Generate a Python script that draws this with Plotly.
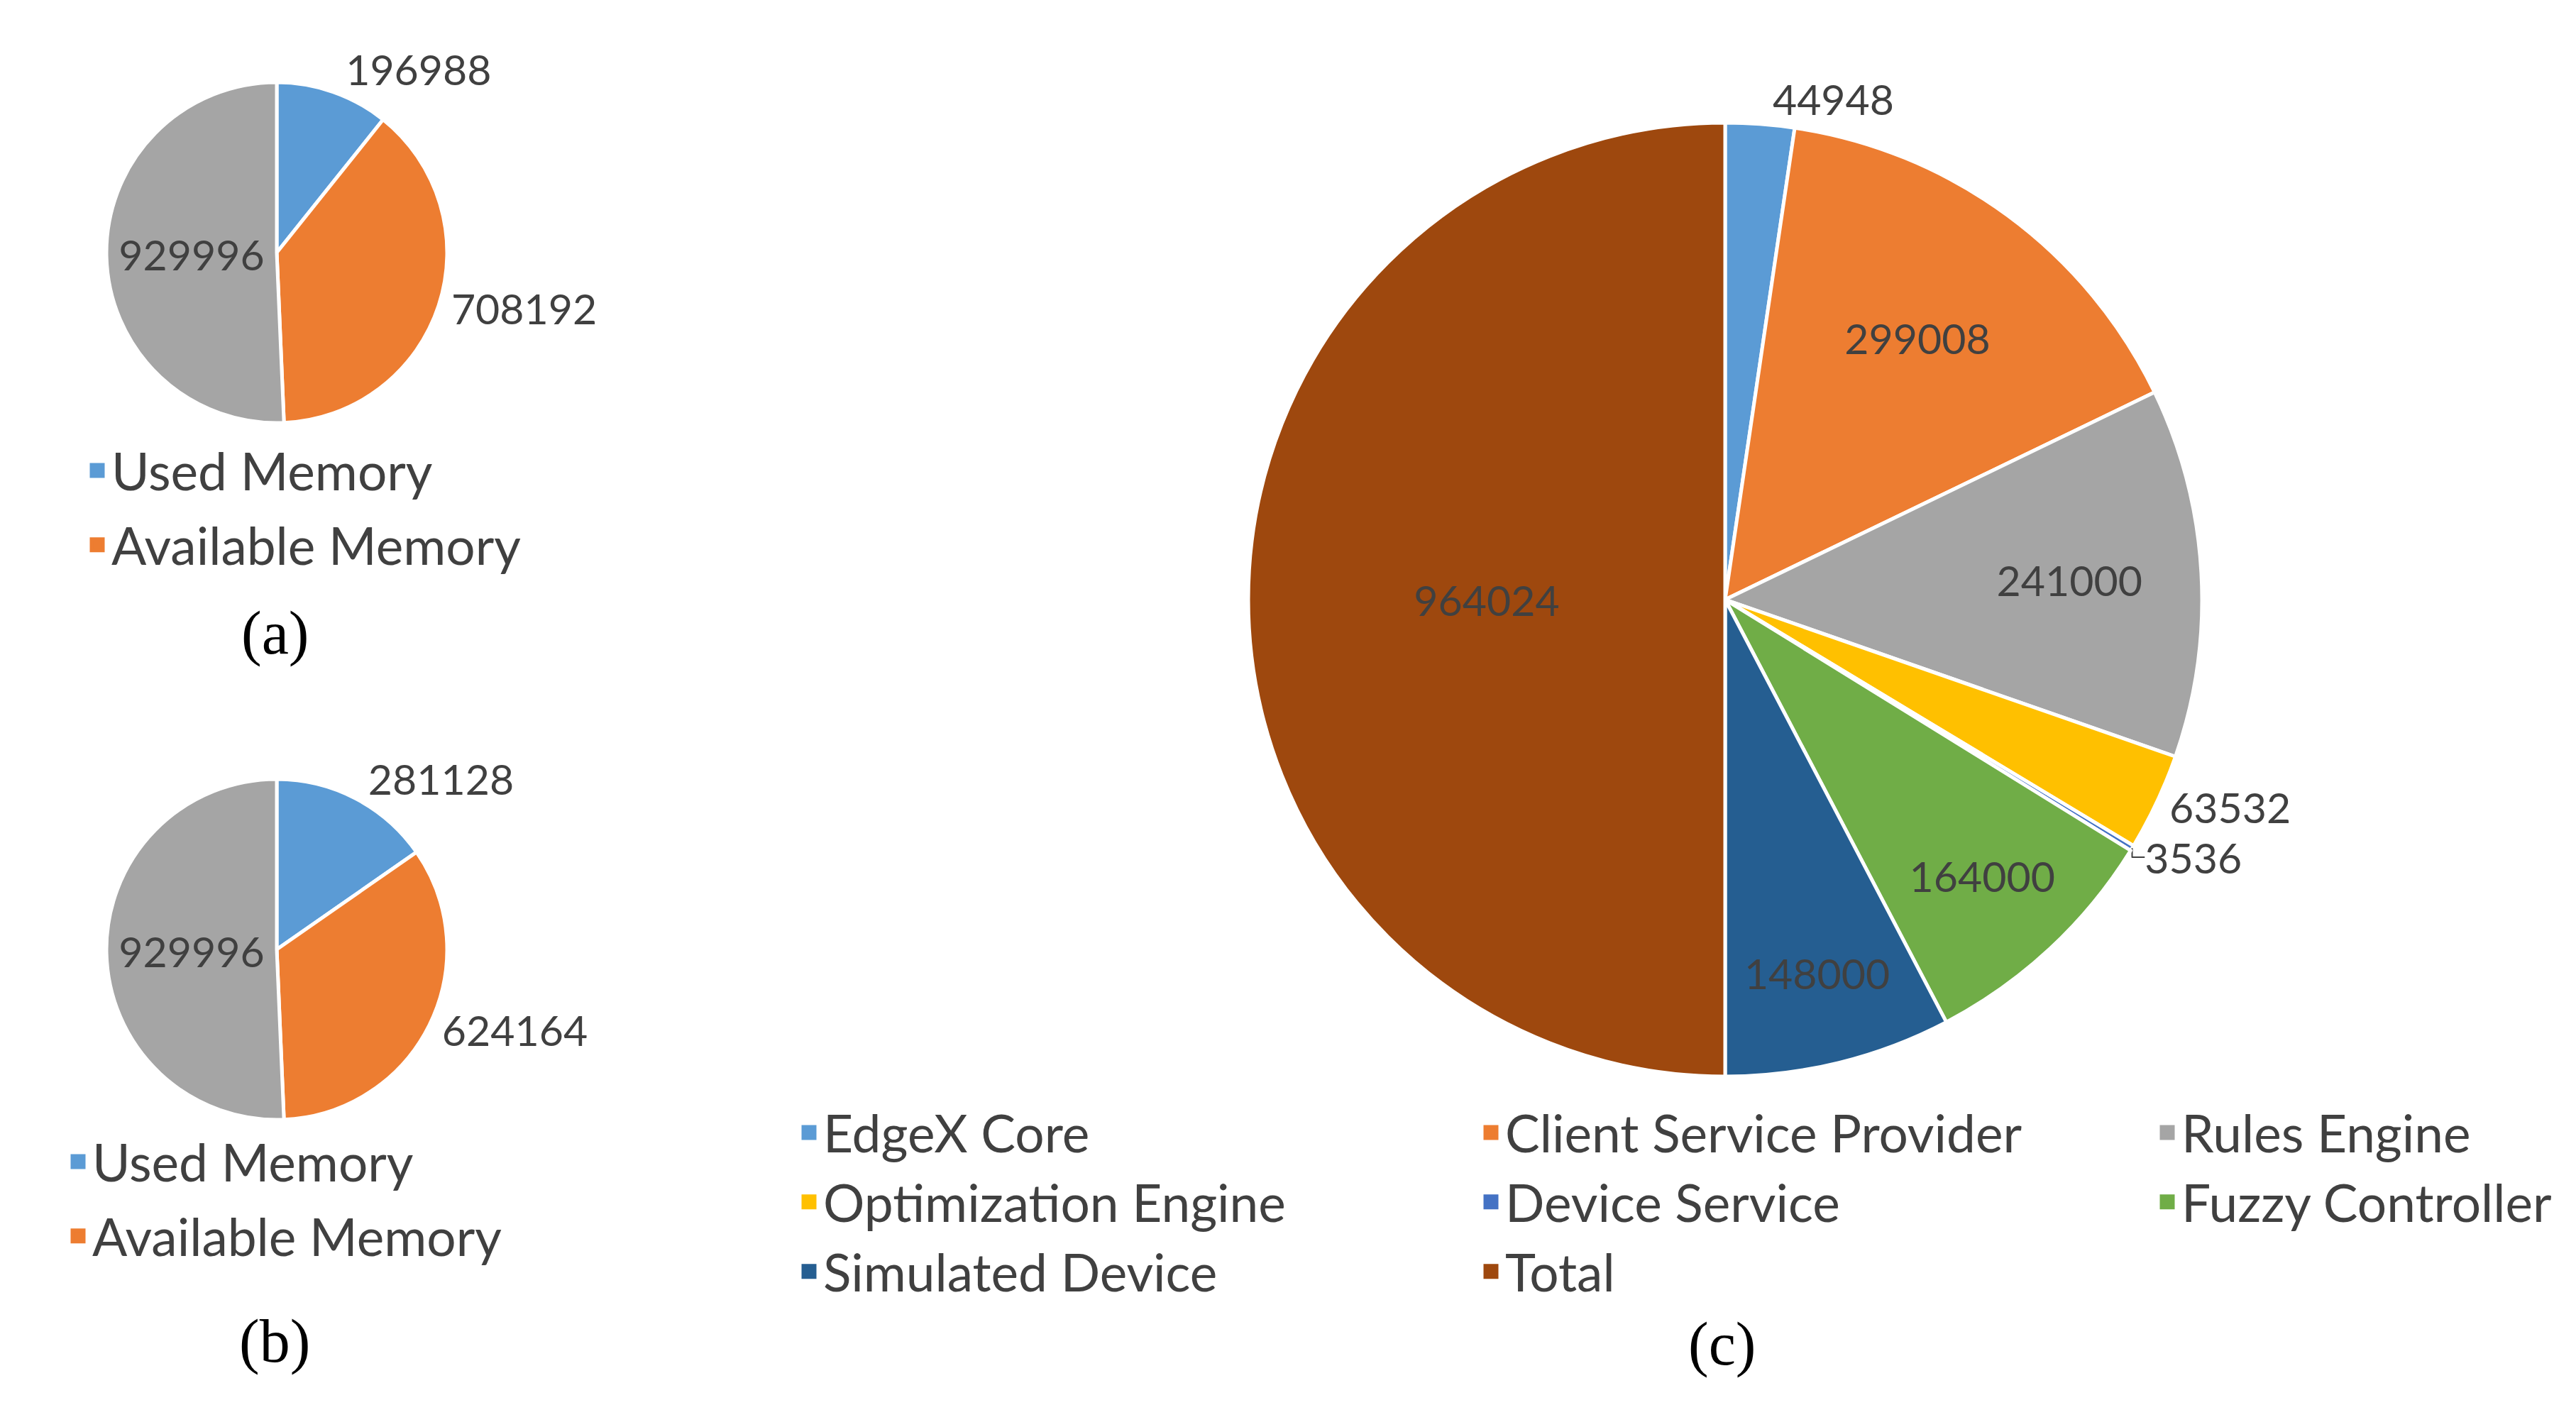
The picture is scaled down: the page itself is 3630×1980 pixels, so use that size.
import plotly.graph_objects as go

W, H = 3630, 1980
OFF = 8  # browser body margin

# ---------------- data ----------------
mem_labels = ["Used Memory", "Available Memory", "Total Memory"]
mem_a_values = [196988, 708192, 929996]
mem_b_values = [281128, 624164, 929996]
mem_colors = ["#5B9BD5", "#ED7D31", "#A5A5A5"]
mem_legend_labels = ["Used Memory", "Available Memory"]

svc_labels = ["EdgeX Core", "Client Service Provider", "Rules Engine",
              "Optimization Engine", "Device Service", "Fuzzy Controller",
              "Simulated Device", "Total"]
svc_values = [44948, 299008, 241000, 63532, 3536, 164000, 148000, 964024]
svc_colors = ["#5B9BD5", "#ED7D31", "#A5A5A5", "#FFC000", "#4472C4",
              "#70AD47", "#255E91", "#9E480E"]
svc_columns = [["EdgeX Core", "Optimization Engine", "Simulated Device"],
               ["Client Service Provider", "Device Service", "Total"],
               ["Rules Engine", "Fuzzy Controller"]]

captions = ["(a)", "(b)", "(c)"]

TEXT_COLOR = "#404040"
FONT = "Lato"


def px_x(x):
    return (x - OFF) / W


def px_y(y):
    return 1 - (y - OFF) / H


def pie_domain(cx, cy, r):
    return dict(x=[px_x(cx - r), px_x(cx + r)], y=[px_y(cy + r), px_y(cy - r)])


fig = go.Figure()

label_font = dict(family=FONT, size=59, color=TEXT_COLOR)

# pie (a)
fig.add_trace(go.Pie(
    labels=mem_labels, values=mem_a_values, sort=False, direction="clockwise",
    rotation=0, marker=dict(colors=mem_colors, line=dict(color="white", width=5)),
    text=[str(v) for v in mem_a_values], textinfo="text",
    textposition=["outside", "outside", "inside"],
    insidetextorientation="horizontal",
    textfont=label_font, showlegend=False, hoverinfo="skip",
    domain=pie_domain(390, 356, 240),
))
# pie (b)
fig.add_trace(go.Pie(
    labels=mem_labels, values=mem_b_values, sort=False, direction="clockwise",
    rotation=0, marker=dict(colors=mem_colors, line=dict(color="white", width=5)),
    text=[str(v) for v in mem_b_values], textinfo="text",
    textposition=["outside", "outside", "inside"],
    insidetextorientation="horizontal",
    textfont=label_font, showlegend=False, hoverinfo="skip",
    domain=pie_domain(390, 1338, 240),
))
# pie (c)
fig.add_trace(go.Pie(
    labels=svc_labels, values=svc_values, sort=False, direction="clockwise",
    rotation=0, marker=dict(colors=svc_colors, line=dict(color="white", width=5)),
    text=[str(v) for v in svc_values], textinfo="text",
    textposition=["outside", "inside", "inside", "outside", "outside",
                  "inside", "inside", "inside"],
    insidetextorientation="horizontal",
    textfont=label_font, showlegend=False, hoverinfo="skip",
    domain=pie_domain(2431, 845, 672),
))

# legend entries (square swatches)
def add_entry(name, color, legend_id, group):
    fig.add_trace(go.Scatter(
        x=[None], y=[None], mode="markers", name=name,
        marker=dict(symbol="square", size=16, color=color,
                    line=dict(color=color, width=5)),
        legend=legend_id, legendgroup=group, hoverinfo="skip",
    ))

for lab in mem_legend_labels:
    add_entry(lab, mem_colors[mem_labels.index(lab)], "legend", "a_" + lab)
for lab in mem_legend_labels:
    add_entry(lab, mem_colors[mem_labels.index(lab)], "legend2", "b_" + lab)
for ci, col in enumerate(svc_columns):
    for lab in col:
        add_entry(lab, svc_colors[svc_labels.index(lab)], "legend%d" % (ci + 3), "c_" + lab)

leg_font = dict(family=FONT, size=73, color=TEXT_COLOR)


def legend_cfg(x_text, y_top, gap):
    return dict(x=px_x(x_text - 40), y=px_y(y_top), xanchor="left", yanchor="top",
                font=leg_font, bgcolor="rgba(0,0,0,0)", tracegroupgap=gap,
                orientation="v", itemclick=False, itemdoubleclick=False)


layout_legends = dict(
    legend=legend_cfg(157, 667 - 58, 7),
    legend2=legend_cfg(130, 1641 - 58, 7),
    legend3=legend_cfg(1160, 1600 - 58, 0),
    legend4=legend_cfg(2121, 1600 - 58, 0),
    legend5=legend_cfg(3074, 1600 - 58, 0),
)

cap_font = dict(family="Liberation Serif", size=86, color="black")
cap_pos = [(387, 892), (387, 1890), (2426, 1894)]
annotations = [dict(text=t, x=px_x(x), y=px_y(y), xref="paper", yref="paper",
                    showarrow=False, font=cap_font, xanchor="center", yanchor="middle")
               for t, (x, y) in zip(captions, cap_pos)]

fig.update_layout(
    width=W, height=H, margin=dict(l=0, r=0, t=0, b=0),
    paper_bgcolor="white", plot_bgcolor="white",
    xaxis=dict(visible=False), yaxis=dict(visible=False),
    uniformtext=dict(minsize=59, mode="show"),
    annotations=annotations,
    **layout_legends,
)

fig.write_html("out.html")
